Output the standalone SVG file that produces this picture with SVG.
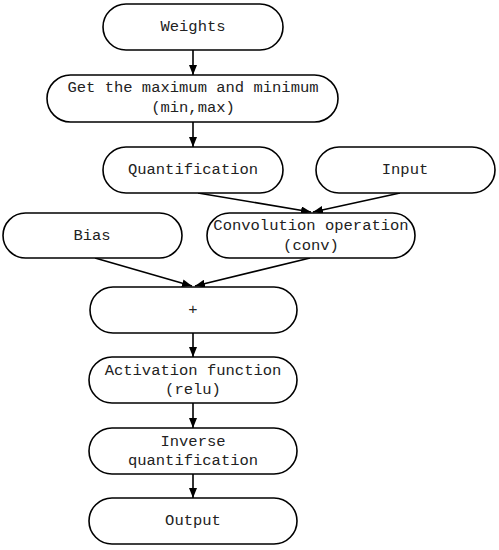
<svg xmlns="http://www.w3.org/2000/svg" width="499" height="550" viewBox="0 0 499 550">
<style>
.n{fill:#fff;stroke:#000;stroke-width:1.6}
.t{font-family:"Liberation Mono","DejaVu Sans Mono",monospace;font-size:15.5px;fill:#222;text-anchor:middle;dominant-baseline:central}
.c{stroke:#000;stroke-width:1.6;fill:none;marker-end:url(#a)}
</style>
<defs>
<marker id="a" markerWidth="10" markerHeight="8" refX="10" refY="4" orient="auto" markerUnits="userSpaceOnUse">
<path d="M0,0 L10,4 L0,8 Z" fill="#000"/>
</marker>
</defs>
<rect width="499" height="550" fill="#fff"/>
<g id="connectors">
<line class="c" x1="193" y1="50" x2="193" y2="75"/>
<line class="c" x1="193" y1="122" x2="193" y2="147"/>
<line class="c" x1="198" y1="193" x2="311" y2="212"/>
<line class="c" x1="400" y1="193" x2="313" y2="212"/>
<line class="c" x1="95" y1="258" x2="192" y2="286"/>
<line class="c" x1="310" y1="258" x2="195" y2="286"/>
<line class="c" x1="193" y1="333" x2="193" y2="357"/>
<line class="c" x1="193" y1="403" x2="193" y2="428"/>
<line class="c" x1="193" y1="474" x2="193" y2="498"/>
</g>
<g id="weights"><rect class="n" x="103" y="4" width="180" height="46" rx="23"/><text class="t" x="193" y="27">Weights</text></g>
<g id="getminmax"><rect class="n" x="47" y="75" width="291" height="47" rx="23.5"/><text class="t" x="193" y="88">Get the maximum and minimum</text><text class="t" x="193" y="108">(min,max)</text></g>
<g id="quant"><rect class="n" x="103" y="147" width="180" height="46" rx="23"/><text class="t" x="193" y="170">Quantification</text></g>
<g id="input"><rect class="n" x="316" y="147" width="179" height="46" rx="23"/><text class="t" x="405" y="170">Input</text></g>
<g id="bias"><rect class="n" x="3" y="213" width="179" height="45" rx="22.5"/><text class="t" x="92" y="236">Bias</text></g>
<g id="conv"><rect class="n" x="207" y="213" width="208" height="45" rx="22.5"/><text class="t" x="311" y="226">Convolution operation</text><text class="t" x="311" y="246">(conv)</text></g>
<g id="plus"><rect class="n" x="90" y="287" width="207" height="46" rx="23"/><text class="t" x="193" y="310">+</text></g>
<g id="activation"><rect class="n" x="89" y="357" width="208" height="46" rx="23"/><text class="t" x="193" y="371">Activation function</text><text class="t" x="193" y="390">(relu)</text></g>
<g id="inverse"><rect class="n" x="89" y="428" width="208" height="46" rx="23"/><text class="t" x="193" y="442">Inverse</text><text class="t" x="193" y="461">quantification</text></g>
<g id="output"><rect class="n" x="89" y="498" width="208" height="46" rx="23"/><text class="t" x="193" y="521">Output</text></g>
</svg>
